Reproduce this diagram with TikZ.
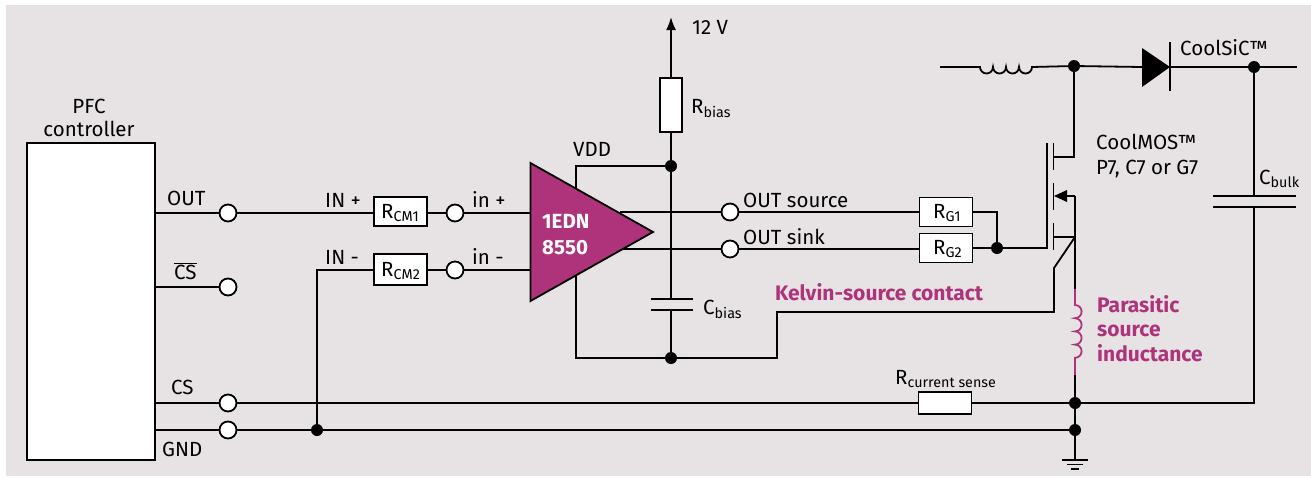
\documentclass[tikz,border=0pt]{standalone}
\usepackage{fontspec}
\setmainfont{Fira Sans}
\usetikzlibrary{arrows.meta}
\definecolor{panelgray}{RGB}{231,227,228}
\definecolor{brandpurple}{RGB}{174,51,122}
\tikzset{
  wire/.style={line width=1.8pt},
  term/.style={circle,draw,line width=1.8pt,fill=white,minimum size=17pt,inner sep=0pt},
  dot/.style={circle,fill=black,minimum size=12pt,inner sep=0pt},
  resbox/.style={draw,line width=1.8pt,fill=white,minimum width=53pt,minimum height=29pt,inner sep=0pt},
  lbl/.style={font=\fontsize{20.5}{22}\selectfont,inner sep=0pt,anchor=base west},
  accent/.style={lbl,font=\fontsize{21}{24}\selectfont\bfseries,text=brandpurple}
}
\begin{document}
\begin{tikzpicture}[x=1pt,y=-1pt]
\useasboundingbox (0,0) rectangle (1311,477);
\fill[panelgray] (6,5) rectangle (1311,476);
% controller
\node (ctrl) at (91,301.5) [draw,line width=1.8pt,fill=white,minimum width=128pt,minimum height=317pt,inner sep=0pt] {};
\node (ctrllabel) at (89,118) [align=center,font=\fontsize{20.5}{23}\selectfont] {PFC\\controller};
\coordinate (ctrlout) at (155,213);
\coordinate (ctrlcsn) at (155,287);
\coordinate (ctrlcs) at (155,403);
\coordinate (ctrlgnd) at (155,430);
\node (tout) at (228,213) [term] {};
\node (tcsn) at (228,287) [term] {};
\node (tcs) at (228,403) [term] {};
\node (tgnd) at (228,430) [term] {};
\node (rcm1) at (400.5,211.5) [resbox] {};
\node (rcm2) at (400.5,269.5) [resbox,minimum height=31pt] {};
\node (tinp) at (455,213) [term] {};
\node (tinn) at (455,270) [term] {};
\node (dgnd) at (317,430) [dot] {};
\coordinate (bend) at (317,270);
% supply branch
\coordinate (vcc) at (671,17);
\node (rbias) at (671,105) [draw,line width=1.8pt,fill=white,minimum width=22pt,minimum height=54pt,inner sep=0pt] {};
\node (dvdd) at (671,166) [dot] {};
\node (dbot) at (671,358) [dot] {};
\coordinate (vddin) at (576,166);
\coordinate (gndin) at (576,358);
\node (tsrc) at (730,212) [term] {};
\node (tsnk) at (730,249) [term] {};
\node (rg1) at (946,212) [resbox] {};
\node (rg2) at (946,248) [resbox] {};
\node (dgate) at (997,248) [dot] {};
\node (rsense) at (945,403) [resbox,minimum height=22pt] {};
% power stage
\coordinate (linein) at (940,67);
\node (ddrain) at (1074,66) [dot] {};
\node (dbulk) at (1254,67) [dot] {};
\coordinate (lineout) at (1297,67);
\node (dsense) at (1075,403) [dot] {};
\node (dgnd2) at (1075,430) [dot] {};
\coordinate (gnd) at (1075,460);
\draw [wire,-{Latex[length=13pt,width=10pt]}] (rbias) -- (vcc);
\draw [wire] (dvdd) -- (rbias);
\draw [wire] (dvdd) -- (dbot);
\draw [wire] (dvdd) -- (vddin) -- (576,200);
\draw [wire] (dbot) -- (gndin) -- (576,265);
\draw [wire] (ctrlout) -- (tout);
\draw [wire] (ctrlcsn) -- (tcsn);
\draw [wire] (ctrlcs) -- (tcs);
\draw [wire] (ctrlgnd) -- (tgnd);
\draw [wire] (tout) -- (rcm1.west |- tout);
\draw [wire] (rcm1.east |- tinp) -- (tinp);
\draw [wire] (tgnd) -- (dgnd) -- (dgnd2);
\draw [wire] (dgnd) -- (bend) -- (rcm2.west |- bend);
\draw [wire] (rcm2.east |- tinn) -- (tinn);
\draw [wire] (tinp) -- (530,213);
\draw [wire] (tinn) -- (530,270);
\draw [wire] (620,212) -- (tsrc);
\draw [wire] (620,249) -- (tsnk);
\draw [wire] (tsrc) -- (rg1);
\draw [wire] (tsnk) -- (rg2.west |- tsnk);
\draw [wire] (rg1) -- (997,212) -- (dgate);
\draw [wire] (rg2) -- (dgate) -- (1047,248) -- (1047,143);
% driver triangle
\draw [line width=1.8pt,fill=brandpurple] (530.5,163) -- (653,232) -- (530.5,301) -- cycle;
\node (driverlabel) at (542,235) [font=\fontsize{20.5}{26}\selectfont\bfseries,text=white,align=left,anchor=west,inner sep=0pt] {1EDN\\8550};
% mosfet
\draw [wire] (1053.5,143) -- (1053.5,170);
\draw [wire] (1053.5,183) -- (1053.5,210);
\draw [wire] (1053.5,223) -- (1053.5,250);
\draw [wire] (ddrain) -- (1074,157) -- (1053.5,157);
\draw [wire] (1053.5,237) -- (1075,237);
\draw [wire] (1075,196) -- (1075,290);
\draw [wire] (1075,196) -- (1066,196);
\fill (1054,196) -- (1067,190) -- (1067,202) -- cycle;
\draw [wire] (1075,237) -- (1054,268) -- (1054,312) -- (777,312) -- (777,358) -- (dbot);
% parasitic inductor
\draw [wire,brandpurple] (1075,289) -- (1075,305)
  arc (-90:90:6.6) arc (-90:90:6.6) arc (-90:90:6.6) arc (-90:90:6.6)
  -- (1075,375);
\draw [wire] (1075,375) -- (dsense);
\draw [wire] (dsense) -- (dgnd2) -- (gnd);
\draw [wire] (1062,460) -- (1088,460);
\draw [wire] (1067,464.5) -- (1083,464.5);
\draw [wire] (1071,469) -- (1079,469);
% top line
\draw [wire] (linein) -- (980,67) arc (180:0:6.5) arc (180:0:6.5) arc (180:0:6.5) arc (180:0:6.5) -- (ddrain);
\draw [wire] (ddrain) -- (1142,67);
\fill (1142,48) -- (1170,67) -- (1142,87) -- cycle;
\draw [wire] (1170,42) -- (1170,91);
\draw [wire] (1170,67) -- (dbulk) -- (lineout);
% bulk cap
\draw [wire] (dbulk) -- (1254,196);
\draw [wire] (1213,196) -- (1296,196);
\draw [wire] (1213,207) -- (1296,207);
\draw [wire] (1254,207) -- (1254,403) -- (dsense);
\draw [wire] (tcs) -- (rsense);
\draw [wire] (rsense) -- (dsense);
% bias cap
\fill[panelgray] (660,300) rectangle (682,310);
\draw [wire] (651,299) -- (693,299);
\draw [wire] (651,310) -- (693,310);
% labels
\node (lout) at (167,205) [lbl] {OUT};
\node (lcsn) at (174,279) [lbl] {$\overline{\mbox{CS}}$};
\node (lcs) at (171,394) [lbl] {CS};
\node (lgnd) at (162,456) [lbl] {GND};
\node (linp) at (325,207) [lbl] {IN +};
\node (linn) at (325,264) [lbl] {IN -};
\node (lrcm1) at (381,218) [lbl] {R\textsubscript{CM1}};
\node (lrcm2) at (381,276) [lbl] {R\textsubscript{CM2}};
\node (lip) at (472,207) [lbl] {in +};
\node (lin) at (472,264) [lbl] {in -};
\node (lvdd) at (573,156) [lbl] {VDD};
\node (lvcc) at (692,34) [lbl] {12 V};
\node (lrbias) at (691,113) [lbl] {R\textsubscript{bias}};
\node (lcbias) at (703,314) [lbl] {C\textsubscript{bias}};
\node (lsrc) at (743,207) [lbl] {OUT source};
\node (lsnk) at (743,244) [lbl] {OUT sink};
\node (lrg1) at (933,218) [lbl] {R\textsubscript{G1}};
\node (lrg2) at (933,254) [lbl] {R\textsubscript{G2}};
\node (lrsense) at (895,384) [lbl] {R\textsubscript{current sense}};
\node (lsic) at (1180,55) [lbl] {CoolSiC™};
\node (lmos) at (1096,149) [lbl] {CoolMOS™};
\node (lmos2) at (1096,174) [lbl] {P7, C7 or G7};
\node (lbulk) at (1259,184) [lbl] {C\textsubscript{bulk}};
\node (lkelvin) at (775,300) [accent] {Kelvin-source contact};
\node (lpara) at (1097,312) [accent] {Parasitic};
\node (lpara2) at (1097,336) [accent] {source};
\node (lpara3) at (1097,361) [accent] {inductance};
\end{tikzpicture}
\end{document}
